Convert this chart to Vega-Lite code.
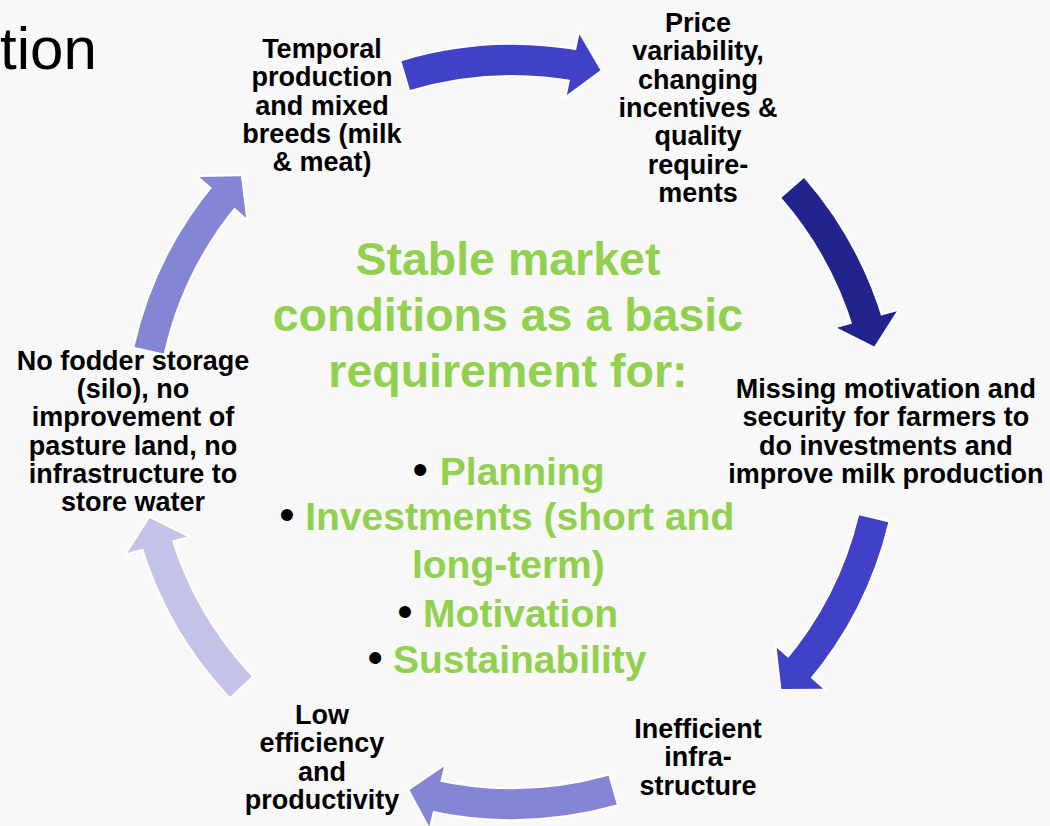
{
  "$schema": "https://vega.github.io/schema/vega-lite/v6.json",
  "width": 1050,
  "height": 826,
  "autosize": {"type": "none"},
  "padding": 0,
  "background": "#f8f8f8",
  "config": {"view": {"stroke": null}},
  "datasets": {
    "arrows": [
      {"id": 1, "from": -16.6, "to": 10.6, "hx": 0.201, "hy": 0.980, "dir": 101.6},
      {"id": 2, "from": 49.0, "to": 73.6, "hx": 0.964, "hy": 0.266, "dir": 164.6},
      {"id": 3, "from": 103.5, "to": 130.5, "hx": 0.749, "hy": -0.663, "dir": 221.5},
      {"id": 4, "from": 164.3, "to": 192.8, "hx": -0.239, "hy": -0.971, "dir": 283.8},
      {"id": 5, "from": 226.8, "to": 253.5, "hx": -0.964, "hy": -0.267, "dir": 344.5},
      {"id": 6, "from": 282.7, "to": 310.2, "hx": -0.753, "hy": 0.659, "dir": 41.2}
    ],
    "nodes": [
      {"label": "Temporal\nproduction\nand mixed\nbreeds (milk\n& meat)", "x": -0.511, "y": 1.005},
      {"label": "Price\nvariability,\nchanging\nincentives &\nquality\nrequire-\nments", "x": 0.5, "y": 1.075},
      {"label": "Missing motivation and\nsecurity for farmers to\ndo investments and\nimprove milk production", "x": 1.005, "y": 0.091},
      {"label": "Inefficient\ninfra-\nstructure", "x": 0.5, "y": -0.823},
      {"label": "Low\nefficiency\nand\nproductivity", "x": -0.511, "y": -0.785},
      {"label": "No fodder storage\n(silo), no\nimprovement of\npasture land, no\ninfrastructure to\nstore water", "x": -1.019, "y": 0.167}
    ],
    "heading": [
      {"label": "Stable market\nconditions as a basic\nrequirement for:", "x": -0.011, "y": 0.422}
    ],
    "items": [
      {"label": "Planning", "x": -0.194, "y": -0.142, "bx": -0.247},
      {"label": "Investments (short and", "x": -0.556, "y": -0.263, "bx": -0.605},
      {"label": "long-term)", "x": -0.269, "y": -0.392, "bx": null},
      {"label": "Motivation", "x": -0.239, "y": -0.524, "bx": -0.288},
      {"label": "Sustainability", "x": -0.320, "y": -0.648, "bx": -0.368}
    ],
    "title": [
      {"label": "tion", "x": -1.116, "y": 0.976}
    ]
  },
  "layer": [
    {
      "data": {"name": "title"},
      "mark": {"type": "text", "align": "right", "baseline": "alphabetic", "font": "Liberation Sans", "fontSize": 60, "color": "#000000"},
      "encoding": {
        "x": {"field": "x", "type": "quantitative", "scale": {"domain": [-1.3763, 1.4462], "nice": false, "zero": false}, "axis": null},
        "y": {"field": "y", "type": "quantitative", "scale": {"domain": [-1.0591, 1.1613], "nice": false, "zero": false}, "axis": null},
        "text": {"field": "label"}
      }
    },
    {
      "data": {"name": "arrows"},
      "mark": {"type": "arc", "innerRadius": 357, "outerRadius": 387, "stroke": "#ffffff", "strokeWidth": 4, "strokeJoin": "miter"},
      "encoding": {
        "x": {"datum": 0, "type": "quantitative", "scale": {"domain": [-1.3763, 1.4462], "nice": false, "zero": false}, "axis": null},
        "y": {"datum": 0, "type": "quantitative", "scale": {"domain": [-1.0591, 1.1613], "nice": false, "zero": false}, "axis": null},
        "theta": {"field": "from", "type": "quantitative", "scale": {"domain": [0, 360], "range": [0, 6.283185307]}, "stack": null},
        "theta2": {"field": "to"},
        "color": {"field": "id", "type": "nominal", "scale": {"domain": [1, 2, 3, 4, 5, 6], "range": ["#4141c8", "#23238e", "#4141c8", "#8585d6", "#c4c4e8", "#8585d6"]}, "legend": null}
      }
    },
    {
      "data": {"name": "arrows"},
      "mark": {"type": "point", "shape": "M -1 0.45 L 0 -0.45 L 1 0.45 Z", "filled": true, "opacity": 1, "size": 3844, "stroke": "#ffffff", "strokeWidth": 4, "strokeJoin": "miter"},
      "encoding": {
        "x": {"field": "hx", "type": "quantitative", "scale": {"domain": [-1.3763, 1.4462], "nice": false, "zero": false}, "axis": null},
        "y": {"field": "hy", "type": "quantitative", "scale": {"domain": [-1.0591, 1.1613], "nice": false, "zero": false}, "axis": null},
        "angle": {"field": "dir", "type": "quantitative", "scale": {"domain": [0, 360], "range": [0, 360]}},
        "color": {"field": "id", "type": "nominal", "scale": {"domain": [1, 2, 3, 4, 5, 6], "range": ["#4141c8", "#23238e", "#4141c8", "#8585d6", "#c4c4e8", "#8585d6"]}, "legend": null}
      }
    },
    {
      "data": {"name": "arrows"},
      "mark": {"type": "arc", "innerRadius": 357, "outerRadius": 387, "strokeWidth": 0},
      "encoding": {
        "x": {"datum": 0, "type": "quantitative", "scale": {"domain": [-1.3763, 1.4462], "nice": false, "zero": false}, "axis": null},
        "y": {"datum": 0, "type": "quantitative", "scale": {"domain": [-1.0591, 1.1613], "nice": false, "zero": false}, "axis": null},
        "theta": {"field": "from", "type": "quantitative", "scale": {"domain": [0, 360], "range": [0, 6.283185307]}, "stack": null},
        "theta2": {"field": "to"},
        "color": {"field": "id", "type": "nominal", "scale": {"domain": [1, 2, 3, 4, 5, 6], "range": ["#4141c8", "#23238e", "#4141c8", "#8585d6", "#c4c4e8", "#8585d6"]}, "legend": null}
      }
    },
    {
      "data": {"name": "arrows"},
      "mark": {"type": "point", "shape": "M -1 0.45 L 0 -0.45 L 1 0.45 Z", "filled": true, "opacity": 1, "size": 3844, "strokeWidth": 0},
      "encoding": {
        "x": {"field": "hx", "type": "quantitative", "scale": {"domain": [-1.3763, 1.4462], "nice": false, "zero": false}, "axis": null},
        "y": {"field": "hy", "type": "quantitative", "scale": {"domain": [-1.0591, 1.1613], "nice": false, "zero": false}, "axis": null},
        "angle": {"field": "dir", "type": "quantitative", "scale": {"domain": [0, 360], "range": [0, 360]}},
        "color": {"field": "id", "type": "nominal", "scale": {"domain": [1, 2, 3, 4, 5, 6], "range": ["#4141c8", "#23238e", "#4141c8", "#8585d6", "#c4c4e8", "#8585d6"]}, "legend": null}
      }
    },
    {
      "data": {"name": "nodes"},
      "mark": {"type": "text", "align": "center", "baseline": "alphabetic", "lineBreak": "\n", "lineHeight": 28.3, "font": "Liberation Sans", "fontWeight": "bold", "fontSize": 27, "color": "#000000"},
      "encoding": {
        "x": {"field": "x", "type": "quantitative", "scale": {"domain": [-1.3763, 1.4462], "nice": false, "zero": false}, "axis": null},
        "y": {"field": "y", "type": "quantitative", "scale": {"domain": [-1.0591, 1.1613], "nice": false, "zero": false}, "axis": null},
        "text": {"field": "label"}
      }
    },
    {
      "data": {"name": "heading"},
      "mark": {"type": "text", "align": "center", "baseline": "alphabetic", "lineBreak": "\n", "lineHeight": 56, "font": "Liberation Sans", "fontWeight": "bold", "fontSize": 46.5, "color": "#92d050"},
      "encoding": {
        "x": {"field": "x", "type": "quantitative", "scale": {"domain": [-1.3763, 1.4462], "nice": false, "zero": false}, "axis": null},
        "y": {"field": "y", "type": "quantitative", "scale": {"domain": [-1.0591, 1.1613], "nice": false, "zero": false}, "axis": null},
        "text": {"field": "label"}
      }
    },
    {
      "data": {"name": "items"},
      "mark": {"type": "text", "align": "left", "baseline": "alphabetic", "font": "Liberation Sans", "fontWeight": "bold", "fontSize": 39, "color": "#92d050"},
      "encoding": {
        "x": {"field": "x", "type": "quantitative", "scale": {"domain": [-1.3763, 1.4462], "nice": false, "zero": false}, "axis": null},
        "y": {"field": "y", "type": "quantitative", "scale": {"domain": [-1.0591, 1.1613], "nice": false, "zero": false}, "axis": null},
        "text": {"field": "label"}
      }
    },
    {
      "data": {"name": "items"},
      "transform": [{"filter": "datum.bx != null"}],
      "mark": {"type": "text", "align": "center", "baseline": "alphabetic", "font": "Liberation Sans", "fontSize": 44, "color": "#000000"},
      "encoding": {
        "x": {"field": "bx", "type": "quantitative", "scale": {"domain": [-1.3763, 1.4462], "nice": false, "zero": false}, "axis": null},
        "y": {"field": "y", "type": "quantitative", "scale": {"domain": [-1.0591, 1.1613], "nice": false, "zero": false}, "axis": null},
        "text": {"value": "•"}
      }
    }
  ]
}
